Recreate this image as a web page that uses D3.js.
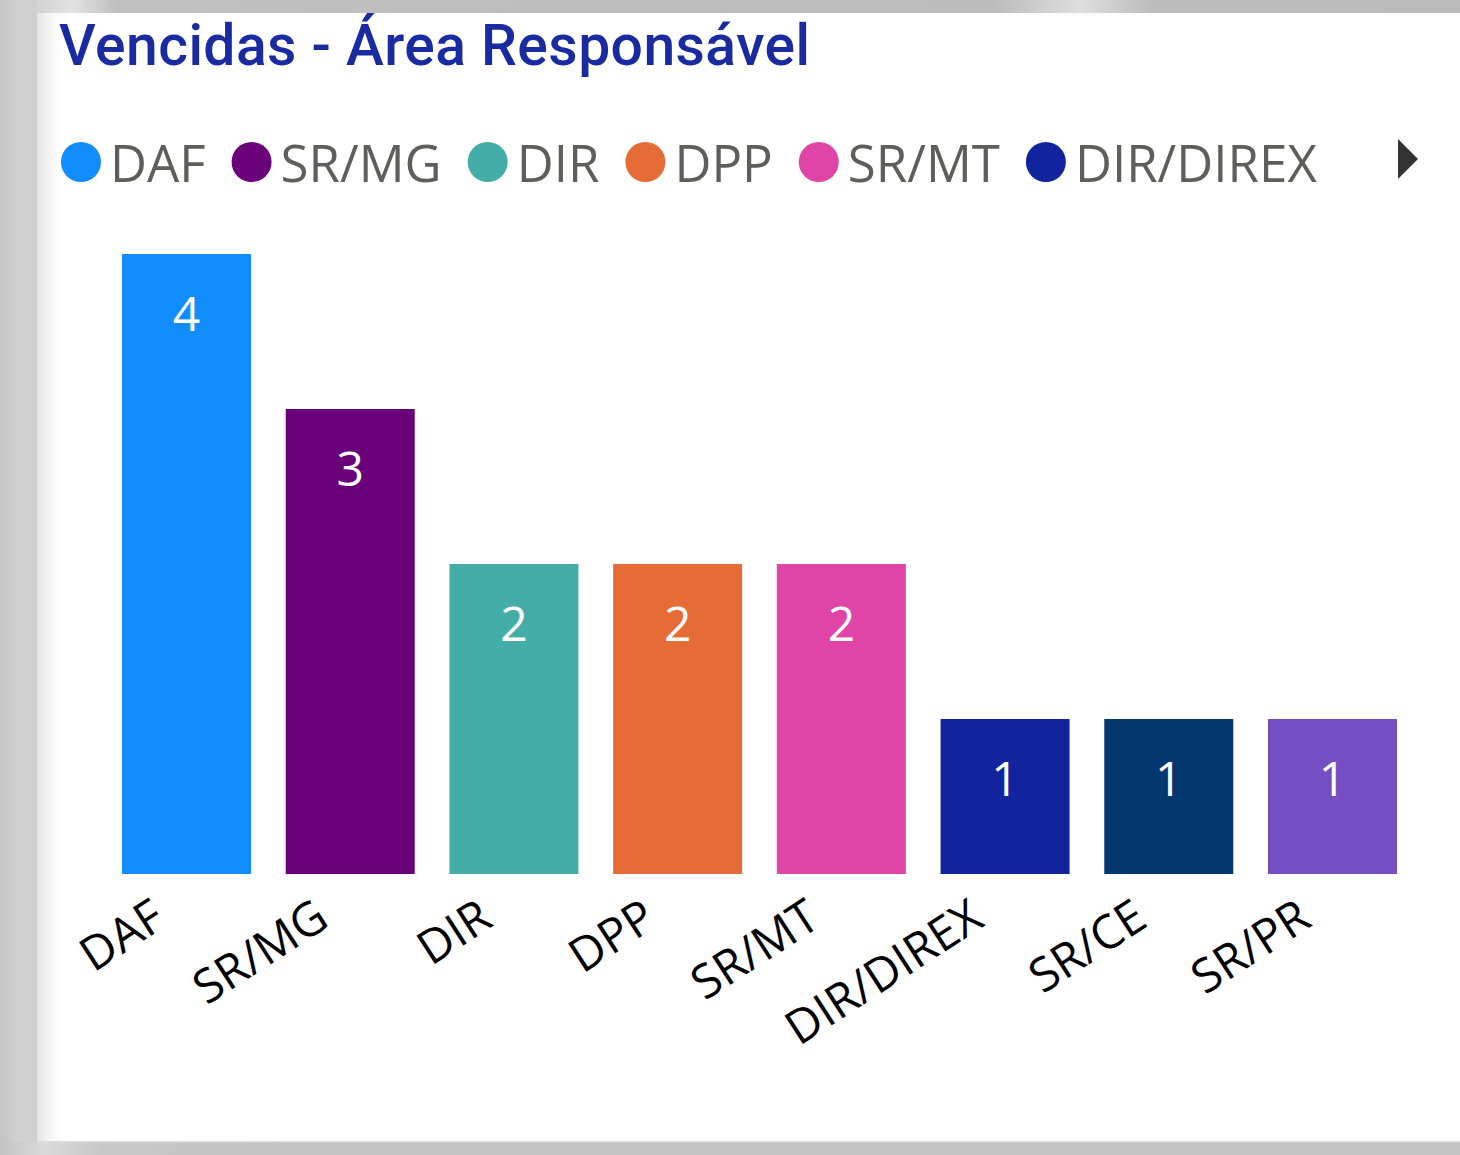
<!DOCTYPE html>
<html><head><meta charset="utf-8">
<script src="https://cdn.jsdelivr.net/npm/d3@7"></script>
<style>html,body{margin:0;padding:0;background:#bdbdbd;overflow:hidden}</style>
</head><body>
<svg id="chart" width="1460" height="1155"></svg>
<script>
const title = "Vencidas - Área Responsável";
const categories = ["DAF", "SR/MG", "DIR", "DPP", "SR/MT", "DIR/DIREX", "SR/CE", "SR/PR"];
const values = [4, 3, 2, 2, 2, 1, 1, 1];
const colors = ["#118DFF", "#6B007B", "#45ADA8", "#E66C37", "#E044A7", "#12239E", "#03376E", "#744EC2"];
const legendCategories = ["DAF", "SR/MG", "DIR", "DPP", "SR/MT", "DIR/DIREX"];

const svg = d3.select("#chart");
const defs = svg.append("defs");
const FONT = "'Segoe UI', 'Open Sans', 'Noto Sans', sans-serif";

// --- frame / background ---
const gTop = defs.append("linearGradient").attr("id", "gTop");
[[0, "#c4c4c4"], [0.02, "#d0d0d0"], [0.05, "#e2e2e2"], [0.08, "#c0c0c0"], [0.68, "#bcbcbc"], [0.74, "#dedede"], [0.79, "#bcbcbc"], [1, "#bbbbbb"]]
  .forEach(([o, c]) => gTop.append("stop").attr("offset", o).attr("stop-color", c));
const gLeft = defs.append("linearGradient").attr("id", "gLeft");
[[0, "#c4c4c4"], [0.5, "#d2d2d2"], [1, "#cfcfcf"]]
  .forEach(([o, c]) => gLeft.append("stop").attr("offset", o).attr("stop-color", c));
const gShadow = defs.append("linearGradient").attr("id", "gShadow");
[[0, "#e4e4e4", 1], [1, "#ffffff", 0]]
  .forEach(([o, c, a]) => gShadow.append("stop").attr("offset", o).attr("stop-color", c).attr("stop-opacity", a));
const gBot = defs.append("linearGradient").attr("id", "gBot");
[[0, "#c4c4c4"], [0.03, "#dadada"], [0.07, "#c8c8c8"], [0.2, "#c2c2c2"], [1, "#c2c2c2"]]
  .forEach(([o, c]) => gBot.append("stop").attr("offset", o).attr("stop-color", c));

svg.append("rect").attr("width", 1460).attr("height", 1155).attr("fill", "#bdbdbd");
svg.append("rect").attr("x", 0).attr("y", 0).attr("width", 1460).attr("height", 13).attr("fill", "url(#gTop)");
svg.append("rect").attr("x", 0).attr("y", 0).attr("width", 37).attr("height", 1155).attr("fill", "url(#gLeft)");
svg.append("rect").attr("x", 0).attr("y", 1142).attr("width", 1460).attr("height", 13).attr("fill", "url(#gBot)");
svg.append("rect").attr("x", 37).attr("y", 13).attr("width", 1423).attr("height", 1129).attr("fill", "#ffffff");
svg.append("rect").attr("x", 37).attr("y", 13).attr("width", 32).attr("height", 1129).attr("fill", "url(#gShadow)");
svg.append("rect").attr("x", 37).attr("y", 1141).attr("width", 1423).attr("height", 1.5).attr("fill", "#dcdcdc");

// --- title ---
svg.append("text")
  .attr("x", 59).attr("y", 65)
  .attr("font-family", "Roboto, 'DejaVu Sans', sans-serif")
  .attr("font-weight", 500)
  .attr("font-size", 57)
  .attr("letter-spacing", 0.45)
  .attr("fill", "#1A2AA0")
  .text(title);

// --- legend ---
const legend = svg.append("g").attr("class", "legend");
let lx = 61;
legendCategories.forEach((c, i) => {
  const g = legend.append("g");
  g.append("circle").attr("cx", lx + 20).attr("cy", 162).attr("r", 20)
    .attr("fill", colors[categories.indexOf(c)]);
  const t = g.append("text").attr("x", lx + 49).attr("y", 182)
    .attr("font-family", FONT).attr("font-size", 51).attr("fill", "#605E5C").text(c);
  const w = t.node().getComputedTextLength();
  lx = lx + 49 + w + 26;
});
legend.append("path").attr("d", "M1398,139 L1418,159 L1398,179 Z").attr("fill", "#333333");

// --- scales ---
const x = d3.scaleBand().domain(categories).range([122, 1397]).paddingInner(0.212).paddingOuter(0);
const y = d3.scaleLinear().domain([0, 4]).range([874, 254]);

// --- bars ---
svg.append("g").selectAll("rect").data(categories).join("rect")
  .attr("x", d => x(d))
  .attr("y", (d, i) => y(values[i]))
  .attr("width", x.bandwidth())
  .attr("height", (d, i) => y(0) - y(values[i]))
  .attr("fill", (d, i) => colors[i]);

// --- value labels ---
svg.append("g").selectAll("text").data(categories).join("text")
  .attr("x", d => x(d) + x.bandwidth() / 2)
  .attr("y", (d, i) => y(values[i]) + 77)
  .attr("text-anchor", "middle")
  .attr("font-family", FONT).attr("font-size", 48).attr("fill", "#ffffff")
  .text((d, i) => values[i]);

// --- x axis ---
const xAxis = d3.axisBottom(x).tickSize(0).tickPadding(0);
const ax = svg.append("g").attr("transform", `translate(0,${y(0)})`).call(xAxis);
ax.select(".domain").remove();
ax.selectAll("text")
  .attr("font-family", FONT).attr("font-size", 47).attr("fill", "#000000")
  .attr("text-anchor", "end")
  .attr("dy", null)
  .attr("transform", "translate(-19,51) rotate(-33)");
</script>
</body></html>
